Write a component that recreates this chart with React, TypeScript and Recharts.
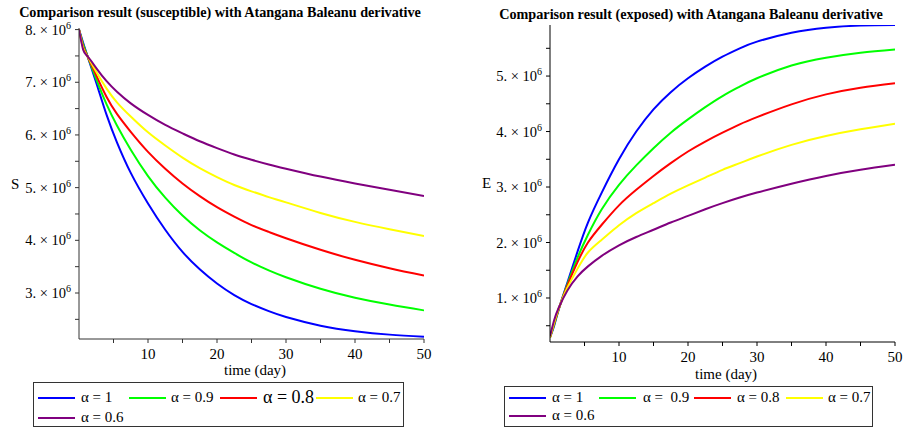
import React from 'react'
import { LineChart, Line, XAxis, YAxis } from 'recharts'

// time (day)
const times = [0, 0.6, 1.25, 2.5, 4, 5.5, 7.5, 10, 12.5, 15, 17.5, 20, 22.5, 25, 27.5, 30, 35, 40, 45, 50]

// susceptible, in units of 10^6
const sAlpha1 = [8.0, 7.75, 7.49, 6.99, 6.38, 5.86, 5.28, 4.7, 4.2, 3.78, 3.45, 3.18, 2.96, 2.79, 2.655, 2.545, 2.38, 2.275, 2.21, 2.17]
const sAlpha09 = [8.0, 7.72, 7.49, 7.06, 6.58, 6.18, 5.72, 5.22, 4.81, 4.47, 4.19, 3.96, 3.76, 3.58, 3.43, 3.3, 3.08, 2.91, 2.78, 2.67]
const sAlpha08 = [8.0, 7.68, 7.49, 7.13, 6.72, 6.4, 6.06, 5.68, 5.36, 5.08, 4.84, 4.63, 4.45, 4.29, 4.16, 4.04, 3.82, 3.63, 3.47, 3.33]
const sAlpha07 = [8.0, 7.65, 7.49, 7.2, 6.88, 6.62, 6.35, 6.05, 5.8, 5.57, 5.37, 5.2, 5.05, 4.93, 4.82, 4.72, 4.52, 4.35, 4.21, 4.08]
const sAlpha06 = [8.0, 7.62, 7.49, 7.27, 7.02, 6.82, 6.6, 6.38, 6.19, 6.03, 5.88, 5.75, 5.63, 5.53, 5.44, 5.36, 5.21, 5.08, 4.96, 4.84]

// exposed, in units of 10^6
const eAlpha1 = [0.29, 0.5, 0.79, 1.27, 1.84, 2.36, 2.9, 3.5, 4.0, 4.4, 4.71, 4.96, 5.17, 5.35, 5.5, 5.62, 5.78, 5.87, 5.91, 5.92]
const eAlpha09 = [0.29, 0.52, 0.79, 1.24, 1.73, 2.14, 2.6, 3.04, 3.39, 3.7, 3.98, 4.22, 4.44, 4.64, 4.81, 4.96, 5.19, 5.33, 5.42, 5.48]
const eAlpha08 = [0.29, 0.54, 0.8, 1.22, 1.65, 2.0, 2.32, 2.67, 2.95, 3.2, 3.43, 3.64, 3.82, 3.98, 4.13, 4.26, 4.49, 4.67, 4.79, 4.87]
const eAlpha07 = [0.29, 0.56, 0.81, 1.18, 1.53, 1.82, 2.05, 2.31, 2.53, 2.71, 2.88, 3.03, 3.17, 3.31, 3.43, 3.55, 3.76, 3.92, 4.04, 4.14]
const eAlpha06 = [0.31, 0.6, 0.82, 1.13, 1.39, 1.57, 1.76, 1.95, 2.1, 2.23, 2.36, 2.48, 2.6, 2.71, 2.81, 2.9, 3.06, 3.2, 3.31, 3.4]

const xTicks = [5, 10, 15, 20, 25, 30, 35, 40, 45, 50]
const sTicks = [2.5, 3, 3.5, 4, 4.5, 5, 5.5, 6, 6.5, 7, 7.5, 8]
const eTicks = [0.5, 1, 1.5, 2, 2.5, 3, 3.5, 4, 4.5, 5, 5.5]

const colors = ['#0000ff', '#00ff00', '#ff0000', '#ffff00', '#80007f']
const keys = ['a1', 'a09', 'a08', 'a07', 'a06']

const sData = times.map((t, i) => ({
  t, a1: sAlpha1[i], a09: sAlpha09[i], a08: sAlpha08[i], a07: sAlpha07[i], a06: sAlpha06[i],
}))
const eData = times.map((t, i) => ({
  t, a1: eAlpha1[i], a09: eAlpha09[i], a08: eAlpha08[i], a07: eAlpha07[i], a06: eAlpha06[i],
}))

const font = '"Liberation Serif", "Times New Roman", serif'

const XTick = ({ x, y, payload }: any) => {
  if (payload.value % 10 !== 0) return null
  return (
    <text x={x} y={y + 14} textAnchor="middle" fontFamily={font} fontSize={15} fill="#000">
      {payload.value}
    </text>
  )
}

const YTick = ({ x, y, payload }: any) => {
  if (payload.value % 1 !== 0) return null
  return (
    <text x={x} y={y + 5} textAnchor="end" fontFamily={font} fontSize={14.5} fill="#000">
      <tspan>{payload.value}. × 10</tspan>
      <tspan dy={-6} fontSize={10}>6</tspan>
    </text>
  )
}

const abs = (left: number, top: number, extra: any = {}) => ({
  position: 'absolute' as const, left, top, fontFamily: font, color: '#000', whiteSpace: 'pre' as const, lineHeight: 1, ...extra,
})

const LegendBox = ({ left, top, width, height, items }: any) => (
  <div style={{ position: 'absolute', left, top, width, height, border: '1px solid #333', boxSizing: 'border-box' }}>
    {items.map((it: any, i: number) => (
      <React.Fragment key={i}>
        <div style={{ position: 'absolute', left: it.lx - left, top: it.y - top - 1, width: 37, height: 2, background: colors[i] }} />
        <div style={abs(it.tx - left, it.y - top - (it.size ?? 15) / 2 - 1, { fontSize: it.size ?? 15 })}>{it.label}</div>
      </React.Fragment>
    ))}
  </div>
)

const series = () =>
  keys.map((k, i) => (
    <Line key={k} dataKey={k} type="natural" stroke={colors[i]} strokeWidth={2} dot={false} isAnimationActive={false} />
  ))

export default function App() {
  return (
    <div style={{ position: 'absolute', left: 0, top: 0, width: 905, height: 429, background: '#fff', overflow: 'hidden' }}>
      <div style={abs(0, 5, { width: 440, textAlign: 'center', fontSize: 14.2, fontWeight: 'bold' })}>
        Comparison result (susceptible) with Atangana Baleanu derivative
      </div>
      <div style={abs(470, 7, { width: 442, textAlign: 'center', fontSize: 14.2, fontWeight: 'bold' })}>
        Comparison result (exposed) with Atangana Baleanu derivative
      </div>

      <div style={{ position: 'absolute', left: 0, top: 0 }}>
        <LineChart width={460} height={380} data={sData} margin={{ top: 28, right: 36, left: 0, bottom: 0 }}>
          <XAxis dataKey="t" type="number" domain={[0, 50]} ticks={xTicks} tick={<XTick />} height={41}
            stroke="#333" tickSize={4} interval={0} allowDataOverflow />
          <YAxis type="number" domain={[2.127, 8.03]} ticks={sTicks} tick={<YTick />} width={79}
            stroke="#333" tickSize={4} tickMargin={4} interval={0} allowDataOverflow />
          {series()}
        </LineChart>
      </div>
      <div style={{ position: 'absolute', left: 460, top: 0 }}>
        <LineChart width={445} height={380} data={eData} margin={{ top: 25, right: 10, left: 0, bottom: 0 }}>
          <XAxis dataKey="t" type="number" domain={[0, 50]} ticks={xTicks} tick={<XTick />} height={38}
            stroke="#000" tickSize={4} interval={0} allowDataOverflow />
          <YAxis type="number" domain={[0.207, 5.92]} ticks={eTicks} tick={<YTick />} width={90}
            stroke="#000" tickSize={4} tickMargin={4} interval={0} allowDataOverflow />
          {series()}
        </LineChart>
      </div>

      <div style={abs(11, 177, { fontSize: 15 })}>S</div>
      <div style={abs(482, 176, { fontSize: 15 })}>E</div>
      <div style={abs(224, 363, { fontSize: 15 })}>time (day)</div>
      <div style={abs(695, 367, { fontSize: 15 })}>time (day)</div>

      <LegendBox left={33} top={382} width={371} height={45} items={[
        { lx: 37, tx: 80, y: 397, label: 'α = 1' },
        { lx: 128, tx: 170, y: 397, label: 'α = 0.9' },
        { lx: 219, tx: 262, y: 397, label: 'α = 0.8', size: 18 },
        { lx: 315, tx: 357, y: 397, label: 'α = 0.7' },
        { lx: 37, tx: 80, y: 417, label: 'α = 0.6' },
      ]} />
      <LegendBox left={504} top={386} width={369} height={41} items={[
        { lx: 508, tx: 551, y: 397, label: 'α = 1' },
        { lx: 598, tx: 642, y: 397, label: 'α =  0.9' },
        { lx: 693, tx: 736, y: 397, label: 'α = 0.8' },
        { lx: 785, tx: 827, y: 397, label: 'α = 0.7' },
        { lx: 508, tx: 551, y: 415, label: 'α = 0.6' },
      ]} />
    </div>
  )
}
